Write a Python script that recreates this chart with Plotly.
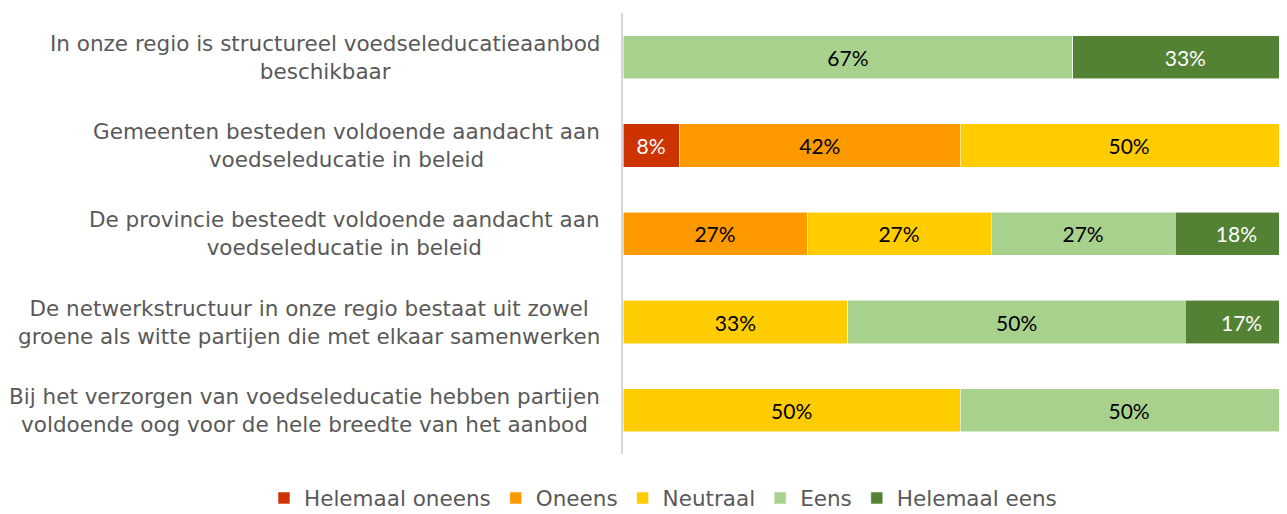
import plotly.graph_objects as go

categories = [
    "In onze regio is structureel voedseleducatieaanbod<br>beschikbaar",
    "Gemeenten besteden voldoende aandacht aan<br>voedseleducatie in beleid",
    "De provincie besteedt voldoende aandacht aan<br>voedseleducatie in beleid",
    "De netwerkstructuur in onze regio bestaat uit zowel<br>groene als witte partijen die met elkaar samenwerken",
    "Bij het verzorgen van voedseleducatie hebben partijen<br>voldoende oog voor de hele breedte van het aanbod",
]

series_names = ["Helemaal oneens", "Oneens", "Neutraal", "Eens", "Helemaal eens"]
helemaal_oneens = [None, 8.33, None, None, None]
oneens = [None, 41.67, 27.27, None, None]
neutraal = [None, 50.0, 27.27, 33.33, 50.0]
eens = [66.67, None, 27.27, 50.0, 50.0]
helemaal_eens = [33.33, None, 18.18, 16.67, None]

colors = ["#CC3300", "#FF9900", "#FFCC00", "#A9D18E", "#548235"]
text_colors = ["white", "black", "black", "black", "white"]

W, H = 1279, 520  # page body has an 8px margin; chart is cropped at right/bottom

fig = go.Figure()
for name, vals, col, tcol in zip(series_names,
                                 [helemaal_oneens, oneens, neutraal, eens, helemaal_eens],
                                 colors, text_colors):
    fig.add_trace(go.Bar(
        y=categories, x=vals, name=name, orientation="h",
        marker=dict(color=col, line=dict(width=0.8, color="rgba(255,255,255,0.7)")),
        texttemplate="%{x:.0f}%", textposition="inside",
        insidetextanchor="middle", textangle=0, constraintext="none",
        textfont=dict(family="Lato, Carlito, sans-serif", size=21, color=tcol),
        hoverinfo="skip",
    ))

annotations = [
    dict(text=c, x=594 / W, xref="paper", xanchor="right", y=c, yref="y",
         yanchor="middle", align="center", showarrow=False,
         font=dict(family="DejaVu Sans, sans-serif", size=21.5, color="#595959"))
    for c in categories
]

fig.update_layout(
    barmode="stack",
    bargap=0.51,
    width=W, height=H,
    margin=dict(l=0, r=0, t=0, b=0),
    paper_bgcolor="white", plot_bgcolor="white",
    font=dict(family="DejaVu Sans, sans-serif", color="#595959"),
    xaxis=dict(range=[0, 98.4], domain=[615 / W, 1], showgrid=False, zeroline=False,
               showticklabels=False, showline=False, fixedrange=True),
    yaxis=dict(autorange="reversed", domain=[73.6 / H, 514.8 / H], showgrid=False,
               zeroline=False, showline=True, linecolor="#D6D6D6", linewidth=2,
               ticks="", showticklabels=False),
    annotations=annotations,
    legend=dict(orientation="h", x=655 / W, xanchor="center", y=30 / H, yanchor="middle",
                font=dict(family="DejaVu Sans, sans-serif", size=21.5, color="#595959"),
                traceorder="normal", itemwidth=30),
    showlegend=True,
)

fig.write_html("out.html")
